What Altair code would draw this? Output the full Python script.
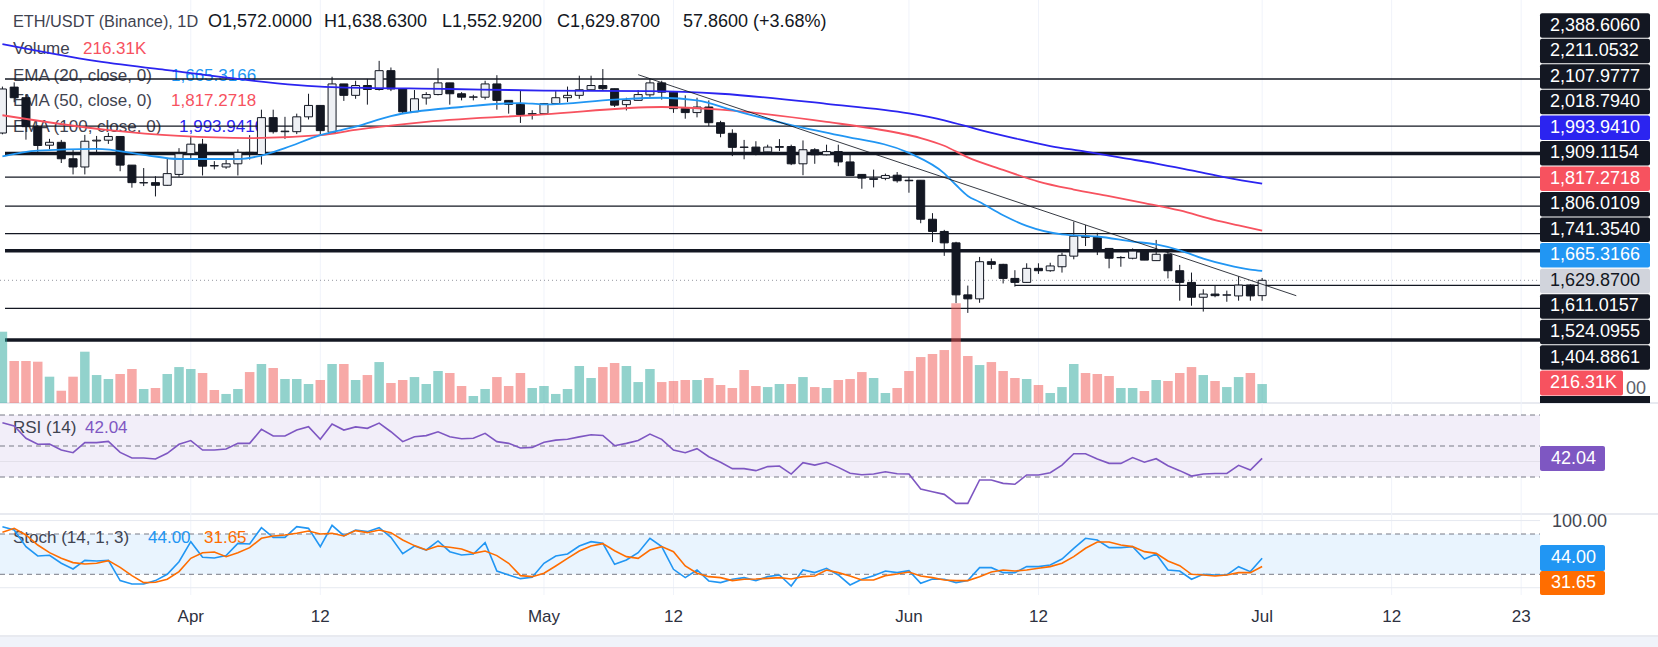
import altair as alt
import pandas as pd

FONT = "Liberation Sans"

# ---------------- data ----------------
days = list(range(108))  # day 0 = 16 Mar, day 107 = 1 Jul
opens = [2185, 2358, 2318, 2209, 2139, 2150, 2088, 2057, 2155, 2158,
         2172, 2064, 1997, 1998, 1988, 2029, 2107, 2143, 2062, 2057,
         2069, 2112, 2104, 2243, 2190, 2190, 2246, 2289, 2188, 2370,
         2327, 2364, 2349, 2420, 2351, 2265, 2317, 2330, 2374, 2333,
         2320, 2320, 2370, 2308, 2293, 2256, 2258, 2296, 2318, 2327,
         2348, 2364, 2352, 2292, 2308, 2329, 2374, 2339, 2277, 2262,
         2283, 2224, 2184, 2132, 2132, 2114, 2131, 2134, 2069, 2122,
         2103, 2115, 2076, 2029, 2010, 2014, 2026, 2007, 2007, 1860,
         1814, 1771, 1575, 1560, 1700, 1690, 1637, 1622, 1675, 1666,
         1681, 1721, 1796, 1792, 1750, 1715, 1713, 1740, 1704, 1728,
         1666, 1622, 1566, 1578, 1574, 1571, 1612, 1572]
highs = [2360, 2376, 2330, 2215, 2163, 2159, 2124, 2178, 2174, 2186,
         2172, 2064, 2053, 2022, 2090, 2128, 2174, 2163, 2079, 2087,
         2124, 2177, 2273, 2273, 2246, 2258, 2333, 2289, 2397, 2370,
         2382, 2389, 2457, 2432, 2351, 2347, 2339, 2429, 2374, 2339,
         2329, 2382, 2403, 2308, 2345, 2271, 2298, 2343, 2360, 2401,
         2401, 2426, 2352, 2318, 2347, 2389, 2382, 2339, 2327, 2318,
         2308, 2231, 2199, 2159, 2154, 2141, 2162, 2141, 2157, 2128,
         2141, 2141, 2103, 2029, 2047, 2032, 2038, 2020, 2007, 1883,
         1820, 1775, 1610, 1718, 1712, 1692, 1668, 1694, 1694, 1696,
         1734, 1851, 1838, 1809, 1750, 1721, 1750, 1740, 1782, 1734,
         1688, 1659, 1596, 1612, 1591, 1644, 1615, 1638.63]
lows = [2180, 2301, 2160, 2107, 2124, 2072, 2029, 2029, 2109, 2144,
        2041, 1979, 1985, 1946, 1986, 2020, 2087, 2025, 2048, 2050,
        2025, 2085, 2066, 2183, 2163, 2181, 2236, 2178, 2182, 2306,
        2314, 2292, 2345, 2343, 2258, 2265, 2292, 2327, 2292, 2308,
        2308, 2311, 2273, 2258, 2223, 2236, 2258, 2296, 2302, 2314,
        2348, 2345, 2283, 2270, 2308, 2321, 2311, 2261, 2239, 2244,
        2211, 2169, 2098, 2086, 2101, 2109, 2117, 2064, 2026, 2069,
        2101, 2060, 2025, 1975, 1980, 2007, 1998, 1960, 1845, 1774,
        1722, 1544, 1507, 1545, 1672, 1618, 1606, 1620, 1654, 1662,
        1659, 1709, 1759, 1725, 1675, 1681, 1709, 1706, 1704, 1637,
        1553, 1534, 1512, 1566, 1549, 1553, 1553, 1552.92]
closes = [2351, 2318, 2209, 2138, 2150, 2088, 2057, 2154, 2158, 2172,
          2064, 1998, 1998, 1988, 2032, 2107, 2143, 2060, 2061, 2069,
          2112, 2104, 2243, 2190, 2192, 2246, 2289, 2194, 2370, 2327,
          2364, 2349, 2420, 2351, 2265, 2314, 2330, 2374, 2333, 2320,
          2321, 2370, 2308, 2293, 2255, 2258, 2296, 2318, 2327, 2348,
          2364, 2352, 2290, 2308, 2330, 2374, 2339, 2277, 2262, 2283,
          2224, 2184, 2131, 2131, 2112, 2132, 2134, 2069, 2122, 2103,
          2115, 2076, 2025, 2015, 2014, 2025, 2005, 2005, 1860, 1814,
          1771, 1575, 1560, 1700, 1690, 1637, 1622, 1675, 1666, 1684,
          1724, 1796, 1792, 1748, 1713, 1716, 1740, 1706, 1728, 1666,
          1622, 1566, 1578, 1572, 1575, 1612, 1571, 1629.87]
volume_k = [813, 479, 479, 471, 300, 140, 300, 585, 319, 274,
            331, 388, 160, 171, 331, 410, 388, 342, 148, 103,
            160, 353, 445, 399, 274, 274, 217, 262, 445, 445,
            262, 319, 467, 228, 262, 296, 217, 365, 342, 194,
            80, 160, 296, 194, 342, 171, 194, 103, 160, 422,
            285, 410, 456, 422, 239, 388, 239, 251, 262, 262,
            285, 205, 171, 376, 194, 182, 217, 217, 296, 182,
            171, 262, 274, 353, 285, 114, 171, 365, 524, 559,
            604, 1137, 536, 433, 467, 365, 285, 274, 205, 114,
            182, 445, 342, 331, 308, 171, 171, 137, 262, 251,
            342, 410, 319, 251, 182, 296, 342, 216.31]
rsi = [65.0, 62.9, 55.0, 51.1, 51.3, 47.4, 45.7, 52.2, 52.2, 53.0,
       45.9, 42.3, 42.3, 41.6, 45.3, 51.1, 53.5, 47.4, 47.4, 48.1,
       51.7, 51.7, 60.8, 56.5, 56.5, 60.3, 62.5, 54.3, 64.2, 60.3,
       62.3, 61.4, 64.8, 59.2, 52.8, 56.0, 56.7, 59.2, 56.0, 54.7,
       55.0, 58.2, 52.8, 51.7, 48.7, 49.1, 52.4, 53.8, 54.4, 55.9,
       57.3, 56.8, 50.2, 51.7, 53.5, 57.7, 54.3, 47.4, 45.7, 48.3,
       43.1, 39.5, 35.4, 35.4, 34.1, 36.7, 37.1, 31.9, 39.2, 37.7,
       39.5, 36.2, 32.4, 31.5, 31.9, 33.4, 32.1, 31.9, 22.2, 20.5,
       18.8, 13.0, 13.0, 28.1, 28.1, 25.9, 25.3, 31.3, 31.3, 32.8,
       37.7, 45.0, 45.0, 41.6, 38.8, 38.8, 42.5, 39.5, 41.8, 37.3,
       34.1, 30.6, 31.9, 32.3, 32.3, 37.5, 34.5, 42.04]
stoch_k = [90.9, 86.0, 61.2, 47.3, 48.3, 36.4, 27.9, 40.8, 39.8, 40.8,
           10.6, 5.6, 5.6, 10.6, 20.0, 38.8, 68.6, 45.3, 44.3, 47.8,
           66.1, 65.1, 89.4, 75.0, 75.0, 90.9, 88.4, 61.2, 92.9, 77.5,
           86.0, 83.5, 89.4, 75.0, 50.7, 62.1, 56.2, 69.6, 53.7, 48.8,
           50.2, 67.1, 24.9, 19.0, 13.5, 15.5, 36.4, 47.3, 50.2, 62.1,
           68.6, 66.1, 34.9, 41.3, 52.2, 73.6, 61.2, 27.4, 15.0, 26.4,
           10.1, 7.6, 12.6, 15.0, 10.6, 16.5, 19.0, 2.6, 26.4, 22.5,
           28.9, 19.0, 4.1, 12.6, 18.0, 24.9, 22.5, 25.4, 6.6, 13.0,
           12.6, 7.6, 10.6, 29.9, 29.9, 22.5, 22.5, 31.4, 31.4, 33.9,
           42.8, 58.7, 73.6, 71.1, 59.7, 59.7, 61.2, 42.8, 50.2, 26.4,
           24.9, 12.6, 20.0, 19.0, 19.0, 31.4, 24.0, 44.0]
stoch_d = [82.5, 88.4, 78.5, 63.6, 52.2, 43.8, 37.4, 35.4, 36.4, 40.3,
           30.4, 18.0, 7.6, 8.1, 12.6, 24.0, 43.8, 52.2, 53.2, 46.3,
           52.2, 59.7, 73.6, 77.0, 78.5, 81.0, 84.5, 80.0, 81.0, 77.0,
           85.0, 82.0, 86.0, 82.0, 71.1, 62.7, 56.2, 62.1, 60.2, 57.7,
           51.2, 54.7, 47.8, 36.4, 18.0, 16.5, 21.5, 32.4, 43.8, 54.7,
           62.1, 65.6, 55.0, 46.3, 43.8, 56.2, 61.2, 53.7, 32.4, 21.5,
           16.5, 15.0, 10.6, 12.6, 13.0, 14.0, 15.0, 13.0, 16.5, 17.5,
           26.4, 22.5, 17.5, 11.6, 11.6, 18.0, 20.5, 23.5, 17.5, 15.0,
           11.6, 10.6, 10.6, 16.5, 23.5, 26.4, 24.9, 26.4, 28.9, 31.4,
           36.4, 46.3, 58.7, 68.1, 68.1, 63.6, 61.2, 53.7, 51.2, 39.8,
           32.9, 20.0, 19.0, 17.5, 19.0, 22.5, 22.5, 31.65]

ema20_days = [0, 3, 8, 12, 15, 20, 22, 24, 27, 30, 33, 39, 44, 46, 52, 56, 59, 62, 67, 71,
              77, 80, 81, 82, 83, 85, 87, 90, 93, 96, 98, 100, 102, 104, 106, 107]
ema20_vals = [2097, 2119, 2125, 2103, 2087, 2087, 2100, 2128, 2177, 2209, 2249, 2283, 2298, 2293,
              2311, 2318, 2308, 2272, 2215, 2177, 2110, 2033, 1989, 1948, 1925, 1875, 1835, 1803,
              1795, 1776, 1765, 1743, 1712, 1688, 1670, 1665.3166]
ema50_days = [0, 9, 15, 21, 27, 30, 36, 46, 56, 61, 70, 76, 78, 80, 82, 85, 88, 91, 94, 97,
              100, 103, 105, 107]
ema50_vals = [2252, 2196, 2174, 2166, 2177, 2197, 2227, 2255, 2283, 2273, 2227, 2186, 2166, 2137,
              2093, 2046, 2002, 1972, 1947, 1921, 1893, 1857, 1837, 1817.2718]
ema100_days = [0, 8, 14, 28, 38, 46, 55, 61, 70, 77, 80, 83, 86, 89, 92, 95, 98, 101, 104, 107]
ema100_vals = [2520, 2456, 2422, 2358, 2351, 2345, 2343, 2333, 2295, 2259, 2233, 2197, 2165, 2136,
               2115, 2092, 2070, 2044, 2017, 1993.941]

levels = [2388.6060, 2211.0532, 2107.9777, 2018.7940, 1909.1154, 1806.0109, 1741.3540,
          1611.0157, 1524.0955, 1404.8861]
level_weight = ["thin", "thin", "thick", "thin", "thin", "thin", "thick", "thin", "thin", "thick"]
level_start_day = [0.22, 0.22, 0.22, 0.22, 0.22, 0.22, 0.22, 86, 0.22, 0.22]
last_close = 1629.87

trend_days = [54.0, 109.9]
trend_prices = [2404.8, 1571.8]

tick_days = [16, 27, 46, 57, 77, 88, 107, 118, 129]
tick_labels = ["Apr", "12", "May", "12", "Jun", "12", "Jul", "12", "23"]

axis_labels = ["2,388.6060", "2,211.0532", "2,107.9777", "2,018.7940", "1,993.9410", "1,909.1154",
               "1,817.2718", "1,806.0109", "1,741.3540", "1,665.3166", "1,629.8700", "1,611.0157",
               "1,524.0955", "1,404.8861"]
axis_kinds = ["level", "level", "level", "level", "ema100", "level", "ema50", "level", "level",
              "ema20", "last", "level", "level", "level"]

rsi_dash = [70, 50, 30]
rsi_grid = [40]
stoch_dash = [80, 20]
stoch_grid = [100, 0]

# ---------------- styling ----------------
DARK = "#131722"
C_EMA20 = "#2196f3"
C_EMA50 = "#f7525f"
C_EMA100 = "#2b24f0"
C_RSI = "#7e57c2"
C_K = "#2196f3"
C_D = "#ff6d00"
GRID = "#f0f3fa"
SEP = "#e0e3eb"
PLOT_W = 1540

xs = alt.Scale(domain=[0.2194, 130.177], range=[0, PLOT_W], nice=False, zero=False)
ps = alt.Scale(domain=[1404.8861, 2388.606], range=[340, 79], nice=False, zero=False)
vs = alt.Scale(domain=[0, 1137], range=[403, 303.3], nice=False, zero=False)
rs = alt.Scale(domain=[30, 70], range=[477, 415], nice=False, zero=False)
ss = alt.Scale(domain=[20, 80], range=[574.3, 534], nice=False, zero=False)
slot_s = alt.Scale(domain=[0, 13], range=[25.5, 357.5], nice=False, zero=False)

df = pd.DataFrame({"day": days, "open": opens, "high": highs, "low": lows, "close": closes,
                   "vol": volume_k, "rsi": rsi, "k": stoch_k, "d": stoch_d})
X = alt.X("day:Q", scale=xs, axis=None)
up = "datum.close >= datum.open"


def txt(s, x, y, color, size=17, align="left"):
    return (alt.Chart(pd.DataFrame({"t": [s]}))
            .mark_text(align=align, baseline="middle", font=FONT, fontSize=size, color=color)
            .encode(x=alt.value(x), y=alt.value(y), text="t:N"))


def box(x1, x2, y1, y2, color, r=0):
    return (alt.Chart(pd.DataFrame({"t": [0]}))
            .mark_rect(color=color, cornerRadius=r)
            .encode(x=alt.value(x1), x2=alt.value(x2), y=alt.value(y1), y2=alt.value(y2)))


layers = []

# bottom strip and separators
layers.append(box(0, 1658, 637, 647, "#f0f3fa"))
for yy in [403, 514, 636]:
    layers.append(alt.Chart(pd.DataFrame({"t": [0]})).mark_rule(color=SEP, strokeWidth=1.5)
                  .encode(x=alt.value(0), x2=alt.value(1658), y=alt.value(yy)))

# vertical grid
tick_df = pd.DataFrame({"day": tick_days, "label": tick_labels})
layers.append(alt.Chart(tick_df).mark_rule(color=GRID, strokeWidth=1)
              .encode(x=X, y=alt.value(0), y2=alt.value(595)))

# RSI pane background & guides
layers.append(alt.Chart(pd.DataFrame({"hi": [70], "lo": [30]})).mark_rect(color="#f2eef9")
              .encode(x=alt.value(0), x2=alt.value(PLOT_W),
                      y=alt.Y("hi:Q", scale=rs, axis=None), y2="lo:Q"))
layers.append(alt.Chart(pd.DataFrame({"v": rsi_grid})).mark_rule(color="#e3e0ea", strokeWidth=1)
              .encode(x=alt.value(0), x2=alt.value(PLOT_W), y=alt.Y("v:Q", scale=rs, axis=None)))
layers.append(alt.Chart(pd.DataFrame({"v": rsi_dash})).mark_rule(color="#787b86", strokeWidth=1, strokeDash=[5, 4])
              .encode(x=alt.value(0), x2=alt.value(PLOT_W), y=alt.Y("v:Q", scale=rs, axis=None)))

# Stoch pane background & guides
layers.append(alt.Chart(pd.DataFrame({"hi": [80], "lo": [20]})).mark_rect(color="#e9f4fe")
              .encode(x=alt.value(0), x2=alt.value(PLOT_W),
                      y=alt.Y("hi:Q", scale=ss, axis=None), y2="lo:Q"))
layers.append(alt.Chart(pd.DataFrame({"v": stoch_grid})).mark_rule(color="#e6e9f0", strokeWidth=1)
              .encode(x=alt.value(0), x2=alt.value(PLOT_W), y=alt.Y("v:Q", scale=ss, axis=None)))
layers.append(alt.Chart(pd.DataFrame({"v": stoch_dash})).mark_rule(color="#787b86", strokeWidth=1, strokeDash=[5, 4])
              .encode(x=alt.value(0), x2=alt.value(PLOT_W), y=alt.Y("v:Q", scale=ss, axis=None)))

# legends (under drawings)
NAME = "#3f4350"
layers += [
    txt("ETH/USDT (Binance), 1D", 13, 22, NAME, 16.3),
    txt("O1,572.0000", 208, 22, DARK, 18),
    txt("H1,638.6300", 324, 22, DARK, 18),
    txt("L1,552.9200", 442, 22, DARK, 18),
    txt("C1,629.8700", 557, 22, DARK, 18),
    txt("57.8600 (+3.68%)", 683, 22, DARK, 18),
    txt("Volume", 13, 49, NAME), txt("216.31K", 83, 49, C_EMA50),
    txt("EMA (20, close, 0)", 13, 76, NAME), txt("1,665.3166", 171, 76, C_EMA20),
    txt("EMA (50, close, 0)", 13, 101, NAME), txt("1,817.2718", 171, 101, C_EMA50),
    txt("EMA (100, close, 0)", 13, 127, NAME), txt("1,993.9410", 179, 127, C_EMA100),
    txt("RSI (14)", 13, 428, NAME), txt("42.04", 85, 428, C_RSI),
    txt("Stoch (14, 1, 3)", 13, 538, NAME), txt("44.00", 148, 538, C_K), txt("31.65", 204, 538, C_D),
]

# horizontal levels
lev_df = pd.DataFrame({"level": levels, "w": level_weight, "start": level_start_day})
layers.append(alt.Chart(lev_df).mark_rule(color=DARK)
              .encode(x=alt.X("start:Q", scale=xs, axis=None), x2=alt.value(PLOT_W),
                      y=alt.Y("level:Q", scale=ps, axis=None),
                      strokeWidth=alt.StrokeWidth("w:N", scale=alt.Scale(domain=["thin", "thick"], range=[1.3, 3.4]), legend=None)))
layers.append(alt.Chart(pd.DataFrame({"v": [last_close]})).mark_rule(color="#9598a1", strokeWidth=1, strokeDash=[1, 3])
              .encode(x=alt.value(0), x2=alt.value(PLOT_W), y=alt.Y("v:Q", scale=ps, axis=None)))

# volume
layers.append(alt.Chart(df).mark_bar(size=9.5, opacity=0.5)
              .encode(x=X, y=alt.Y("vol:Q", scale=vs, axis=None, stack=None),
                      fill=alt.condition(up, alt.value("#26a69a"), alt.value("#ef5350"))))

# candles
layers.append(alt.Chart(df).mark_rule(color=DARK, strokeWidth=1)
              .encode(x=X, y=alt.Y("low:Q", scale=ps, axis=None), y2="high:Q"))
layers.append(alt.Chart(df).mark_bar(size=8, stroke=DARK, strokeWidth=1)
              .encode(x=X, y=alt.Y("open:Q", scale=ps, axis=None), y2="close:Q",
                      fill=alt.condition(up, alt.value("#eef0f4"), alt.value(DARK))))

# EMAs
for dd, vv, col in [(ema100_days, ema100_vals, C_EMA100), (ema50_days, ema50_vals, C_EMA50),
                    (ema20_days, ema20_vals, C_EMA20)]:
    layers.append(alt.Chart(pd.DataFrame({"day": dd, "v": vv})).mark_line(color=col, strokeWidth=1.8, interpolate="monotone")
                  .encode(x=X, y=alt.Y("v:Q", scale=ps, axis=None)))

# trendline
layers.append(alt.Chart(pd.DataFrame({"day": trend_days, "v": trend_prices})).mark_line(color=DARK, strokeWidth=1, opacity=0.85)
              .encode(x=X, y=alt.Y("v:Q", scale=ps, axis=None)))

# RSI & Stoch lines
layers.append(alt.Chart(df).mark_line(color=C_RSI, strokeWidth=1.6)
              .encode(x=X, y=alt.Y("rsi:Q", scale=rs, axis=None)))
layers.append(alt.Chart(df).mark_line(color=C_K, strokeWidth=1.6)
              .encode(x=X, y=alt.Y("k:Q", scale=ss, axis=None)))
layers.append(alt.Chart(df).mark_line(color=C_D, strokeWidth=1.6)
              .encode(x=X, y=alt.Y("d:Q", scale=ss, axis=None)))

# price axis labels
lab_df = pd.DataFrame({"label": axis_labels, "kind": axis_kinds, "slot": list(range(len(axis_labels)))})
kinds = ["level", "ema100", "ema50", "ema20", "last"]
bgs = [DARK, C_EMA100, C_EMA50, C_EMA20, "#d1d4dc"]
fgs = ["#ffffff", "#ffffff", "#ffffff", "#ffffff", DARK]
layers.append(alt.Chart(lab_df).transform_calculate(top="datum.slot - 0.48", bot="datum.slot + 0.48")
              .mark_rect(cornerRadius=2)
              .encode(x=alt.value(1540), x2=alt.value(1650),
                      y=alt.Y("top:Q", scale=slot_s, axis=None), y2="bot:Q",
                      color=alt.Color("kind:N", scale=alt.Scale(domain=kinds, range=bgs), legend=None)))
layers.append(alt.Chart(lab_df).mark_text(align="left", baseline="middle", font=FONT, fontSize=18)
              .encode(x=alt.value(1550), y=alt.Y("slot:Q", scale=slot_s, axis=None), text="label:N",
                      color=alt.Color("kind:N", scale=alt.Scale(domain=kinds, range=fgs), legend=None)))

# volume label & hidden label edge
layers.append(box(1540, 1650, 396, 403, DARK))
layers.append(txt("00", 1646, 389, "#5d606b", 18, align="right"))
layers.append(box(1540, 1623, 370.5, 395.5, C_EMA50, 2))
layers.append(txt("216.31K", 1550, 383, "#ffffff", 18))

# RSI/Stoch labels
layers.append(box(1540, 1605, 446, 471, C_RSI, 2))
layers.append(txt("42.04", 1551, 458.5, "#ffffff", 18))
layers.append(txt("100.00", 1552, 522, "#434651", 18))
layers.append(box(1540, 1605, 545, 571, C_K, 2))
layers.append(txt("44.00", 1551, 558, "#ffffff", 18))
layers.append(box(1540, 1605, 571, 595, C_D, 2))
layers.append(txt("31.65", 1551, 583, "#ffffff", 18))

# date labels
layers.append(alt.Chart(tick_df).mark_text(baseline="middle", align="center", font=FONT, fontSize=17, color="#2e3140")
              .encode(x=X, y=alt.value(617), text="label:N"))

chart = (alt.layer(*layers)
         .resolve_scale(y="independent", color="independent", fill="independent", strokeWidth="independent")
         .properties(width=1658, height=647, autosize=alt.AutoSizeParams(type="none"), padding=0,
                     background="#ffffff")
         .configure_view(stroke=None))

chart.save("out.html", embed_options={"renderer": "svg", "actions": False})
